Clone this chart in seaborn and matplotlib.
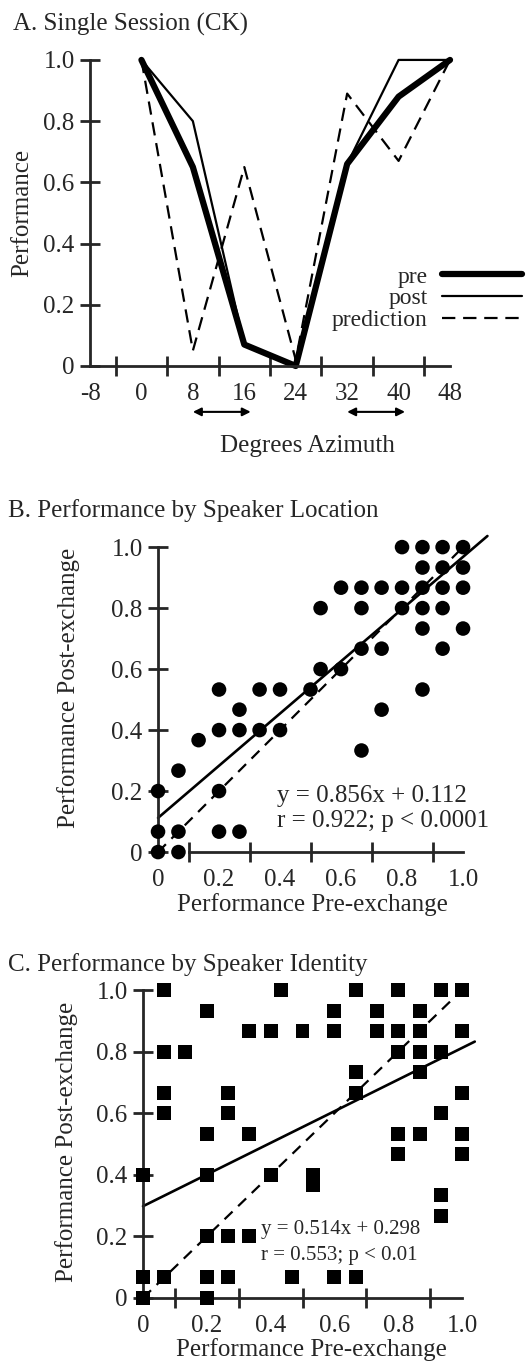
import numpy as np
import pandas as pd
import seaborn as sns
import matplotlib.pyplot as plt
from matplotlib.lines import Line2D

sns.set_style('ticks')
plt.rcParams['font.family'] = ['Liberation Serif', 'DejaVu Serif']
plt.rcParams['axes.linewidth'] = 2

# A. single session
azimuth = [0, 8, 16, 24, 32, 40, 48]
perf_pre = [1.0, 0.65, 0.07, 0.0, 0.66, 0.88, 1.0]
perf_post = [1.0, 0.80, 0.07, 0.0, 0.66, 1.0, 1.0]
perf_pred = [1.0, 0.05, 0.65, 0.02, 0.89, 0.67, 1.0]
exchange_spans = [(8, 17), (32, 41)]

# B. by speaker location
loc_pre = [0.8, 0.867, 0.933, 1.0,
           0.867, 0.933, 1.0,
           0.6, 0.667, 0.733, 0.8, 0.867, 0.933, 1.0,
           0.533, 0.667, 0.8, 0.867, 0.933,
           0.867, 1.0,
           0.667, 0.733, 0.933,
           0.533, 0.6,
           0.2, 0.333, 0.4, 0.5, 0.867,
           0.267, 0.733,
           0.2, 0.267, 0.333, 0.4,
           0.133,
           0.667,
           0.067,
           0.0, 0.2,
           0.0, 0.067, 0.2, 0.267,
           0.0, 0.067]
loc_post = [1.0, 1.0, 1.0, 1.0,
            0.933, 0.933, 0.933,
            0.867, 0.867, 0.867, 0.867, 0.867, 0.867, 0.867,
            0.8, 0.8, 0.8, 0.8, 0.8,
            0.733, 0.733,
            0.667, 0.667, 0.667,
            0.6, 0.6,
            0.533, 0.533, 0.533, 0.533, 0.533,
            0.467, 0.467,
            0.4, 0.4, 0.4, 0.4,
            0.367,
            0.333,
            0.267,
            0.2, 0.2,
            0.067, 0.067, 0.067, 0.067,
            0.0, 0.0]
loc_fit = (0.856, 0.112)

# C. by speaker identity
id_pre = [0.067, 0.433, 0.667, 0.8, 0.933, 1.0,
          0.2, 0.6, 0.733, 0.867,
          0.333, 0.4, 0.5, 0.6, 0.733, 0.8, 0.867, 1.0,
          0.067, 0.133, 0.8, 0.867, 0.933,
          0.667, 0.867,
          0.067, 0.267, 0.667, 1.0,
          0.067, 0.267, 0.933,
          0.2, 0.333, 0.8, 0.867, 1.0,
          0.8, 1.0,
          0.0, 0.2, 0.4, 0.533,
          0.533,
          0.933,
          0.933,
          0.2, 0.267, 0.333,
          0.0, 0.067, 0.2, 0.267, 0.467, 0.6, 0.667,
          0.0, 0.2]
id_post = [1.0, 1.0, 1.0, 1.0, 1.0, 1.0,
           0.933, 0.933, 0.933, 0.933,
           0.867, 0.867, 0.867, 0.867, 0.867, 0.867, 0.867, 0.867,
           0.8, 0.8, 0.8, 0.8, 0.8,
           0.733, 0.733,
           0.667, 0.667, 0.667, 0.667,
           0.6, 0.6, 0.6,
           0.533, 0.533, 0.533, 0.533, 0.533,
           0.467, 0.467,
           0.4, 0.4, 0.4, 0.4,
           0.367,
           0.333,
           0.267,
           0.2, 0.2, 0.2,
           0.067, 0.067, 0.067, 0.067, 0.067, 0.067, 0.067,
           0.0, 0.0]
id_fit = (0.514, 0.298)

perf_ticks = [0, 0.2, 0.4, 0.6, 0.8, 1.0]
perf_labels = ['0', '0.2', '0.4', '0.6', '0.8', '1.0']
fs = 18

fig = plt.figure(figsize=(5.31, 13.62), dpi=100)
axA = fig.add_axes([0.1695, 0.7313, 0.678, 0.2247])
axB = fig.add_axes([0.2976, 0.3744, 0.5744, 0.2239])
axC = fig.add_axes([0.2693, 0.0470, 0.6008, 0.2261])

# ---- A ----
sns.lineplot(x=azimuth, y=perf_pre, ax=axA, color='black', lw=4.5, clip_on=False)
sns.lineplot(x=azimuth, y=perf_post, ax=axA, color='black', lw=1.6, clip_on=False)
sns.lineplot(x=azimuth, y=perf_pred, ax=axA, color='black', lw=1.6,
             dashes=False, clip_on=False).lines[-1].set_dashes((6, 3.5))
axA.set_xlim(-8, 48)
axA.set_ylim(0, 1)
axA.set_xticks(np.arange(-8, 49, 8))
axA.set_xticks(np.arange(-8, 49, 4), minor=True)
axA.set_xticklabels([str(v) for v in range(-8, 49, 8)])
axA.set_yticks(perf_ticks)
axA.set_yticklabels(perf_labels)
for s, lo, hi in [('left', 0, 1), ('bottom', -8, 48)]:
    axA.spines[s].set_bounds(lo, hi)
for lo, hi in exchange_spans:
    axA.annotate('', xy=(hi, -0.15), xytext=(lo, -0.15), xycoords='data',
                 arrowprops=dict(arrowstyle='<|-|>', color='black', lw=1.5,
                                 mutation_scale=12, shrinkA=0, shrinkB=0),
                 annotation_clip=False)
axA.set_ylabel('Performance', fontsize=fs)
axA.set_xlabel('Degrees Azimuth', fontsize=fs)
axA.yaxis.set_label_coords(-0.158, 0.5)
axA.xaxis.set_label_coords(0.603, -0.225)
handles = [Line2D([], [], color='black', lw=4.5),
           Line2D([], [], color='black', lw=1.6),
           Line2D([], [], color='black', lw=1.6, dashes=(6, 3.5))]
axA.legend(handles, ['pre', 'post', 'prediction'], loc='lower right',
           bbox_to_anchor=(1.2, 0.115), markerfirst=False, frameon=False,
           fontsize=17, handlelength=3.4, handletextpad=0.6,
           labelspacing=0.0, borderpad=0, borderaxespad=0)

# ---- B ----
sns.scatterplot(x=loc_pre, y=loc_post, ax=axB, color='black', marker='o',
                s=110, edgecolor='none', clip_on=False, zorder=3)
xb = np.array([0, 1.08])
axB.plot(xb, loc_fit[0] * xb + loc_fit[1], color='black', lw=1.9, clip_on=False)
axB.plot([0, 1], [0, 1], color='black', lw=1.6, dashes=(5, 3.5))
axB.text(0.39, 0.164, 'y = 0.856x + 0.112', fontsize=fs)
axB.text(0.39, 0.082, 'r = 0.922; p < 0.0001', fontsize=fs)
axB.spines['bottom'].set_bounds(0.1, 1.0)
axB.spines['left'].set_bounds(0, 1)
axB.set_ylabel('Performance Post-exchange', fontsize=fs)
axB.set_xlabel('Performance Pre-exchange', fontsize=fs)
axB.yaxis.set_label_coords(-0.256, 0.54)
axB.xaxis.set_label_coords(0.505, -0.134)

# ---- C ----
sns.scatterplot(x=id_pre, y=id_post, ax=axC, color='black', marker='s',
                s=100, edgecolor='none', clip_on=False, zorder=3)
xc = np.array([0, 1.04])
axC.plot(xc, id_fit[0] * xc + id_fit[1], color='black', lw=1.9, clip_on=False)
axC.plot([0, 1], [0, 1], color='black', lw=1.6, dashes=(5, 3.5))
axC.text(0.37, 0.208, 'y = 0.514x + 0.298', fontsize=15)
axC.text(0.37, 0.123, 'r = 0.553; p < 0.01', fontsize=15)
axC.spines['bottom'].set_bounds(0, 1.0)
axC.spines['left'].set_bounds(0, 1)
axC.set_ylabel('Performance Post-exchange', fontsize=fs)
axC.set_xlabel('Performance Pre-exchange', fontsize=fs)
axC.yaxis.set_label_coords(-0.204, 0.506)
axC.xaxis.set_label_coords(0.527, -0.13)

for ax in (axB, axC):
    ax.set_xlim(0, 1)
    ax.set_ylim(0, 1)
    ax.set_xticks(perf_ticks)
    ax.set_xticklabels(perf_labels)
    ax.set_yticks(perf_ticks)
    ax.set_yticklabels(perf_labels)
axB.set_xticks(np.arange(0.1, 1.01, 0.1), minor=True)
axC.set_xticks(np.arange(0, 1.01, 0.1), minor=True)

for ax in (axA, axB, axC):
    sns.despine(ax=ax)
    ax.tick_params(axis='x', which='major', length=0, labelsize=fs, pad=12)
    ax.tick_params(axis='x', which='minor', length=14, width=2, direction='inout')
    ax.tick_params(axis='y', which='major', length=14, width=2, direction='inout',
                   labelsize=fs, pad=4)
    ax.set_facecolor('white')

fig.text(13 / 531, 1 - 31 / 1362, 'A. Single Session (CK)', fontsize=fs, va='baseline')
fig.text(8 / 531, 1 - 517 / 1362, 'B. Performance by Speaker Location', fontsize=fs, va='baseline')
fig.text(8 / 531, 1 - 971 / 1362, 'C. Performance by Speaker Identity', fontsize=fs, va='baseline')

fig.savefig('out.png', dpi=100, facecolor='white')
